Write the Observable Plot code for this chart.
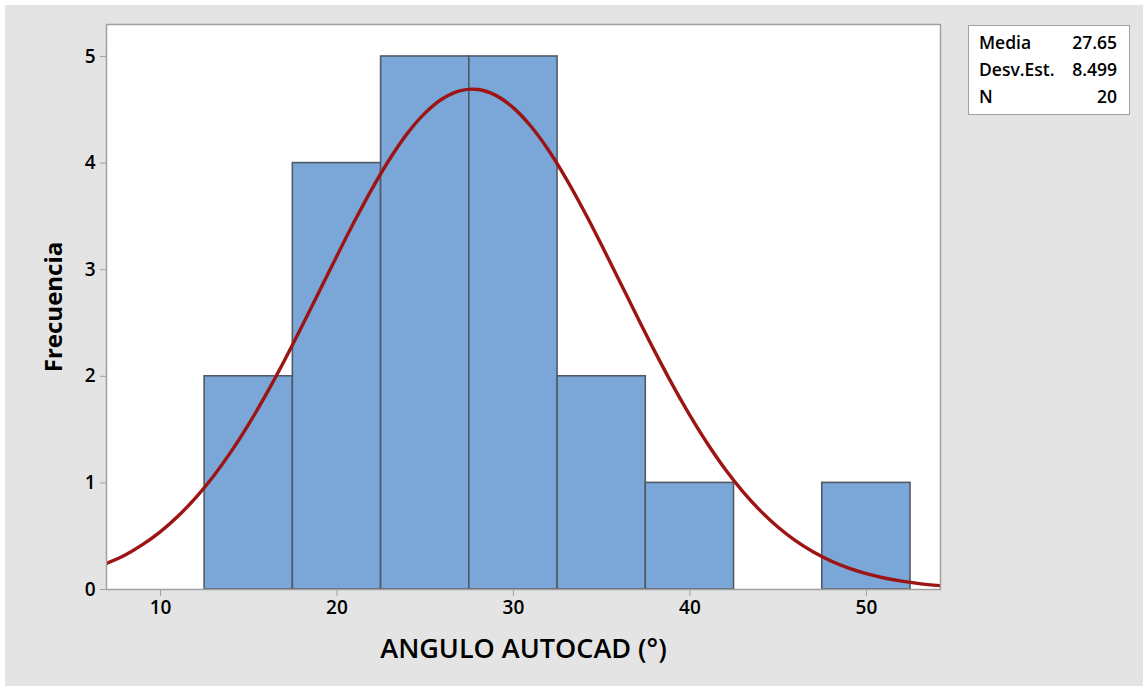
<!DOCTYPE html>
<html>
<head>
<meta charset="utf-8">
<script src="https://cdn.jsdelivr.net/npm/d3@7"></script>
<script src="https://cdn.jsdelivr.net/npm/@observablehq/plot@0.6"></script>
<style>
  html, body { margin: 0; padding: 0; background: #ffffff; }
  #wrap { position: relative; width: 1148px; height: 691px; }
  #wrap svg { display: block; background: #e4e4e4; outline: 5px solid #ffffff; outline-offset: -5px; }
  #legend {
    position: absolute; left: 968px; top: 25px; width: 160px; height: 88px;
    background: #fff; border: 1px solid #a0a0a0; box-sizing: content-box;
    font-family: "Open Sans", "Noto Sans", sans-serif; font-size: 17.5px; font-weight: 600; color: #000;
  }
  #legend table { border-collapse: collapse; margin: 3px 0 0 10px; width: 138px; }
  #legend td { padding: 0; height: 27px; line-height: 27px; white-space: nowrap; }
  #legend td.v { text-align: right; }
</style>
</head>
<body>
<div id="wrap"></div>
<script>
// Histogram bins (lower edge, upper edge) and counts
const binLower = [12.5, 17.5, 22.5, 27.5, 32.5, 37.5, 42.5, 47.5];
const binUpper = [17.5, 22.5, 27.5, 32.5, 37.5, 42.5, 47.5, 52.5];
const counts   = [2, 4, 5, 5, 2, 1, 0, 1];

// Fitted normal curve
const curveX = [6.94, 8, 9, 10, 11, 12, 13, 14, 15, 16, 17, 18, 19, 20, 21, 22, 23, 24, 25, 26, 27, 28,
                29, 30, 31, 32, 33, 34, 35, 36, 37, 38, 39, 40, 41, 42, 43, 44, 45, 46, 47, 48, 49, 50,
                51, 52, 53, 54.2];
const curveY = [0.245, 0.324, 0.423, 0.543, 0.689, 0.862, 1.063, 1.293, 1.551, 1.835, 2.141, 2.464, 2.797, 3.131,
                3.456, 3.763, 4.041, 4.281, 4.471, 4.606, 4.680, 4.690, 4.635, 4.518, 4.343, 4.118, 3.850, 3.551,
                3.230, 2.897, 2.563, 2.236, 1.924, 1.633, 1.367, 1.128, 0.919, 0.738, 0.584, 0.456, 0.352, 0.267,
                0.200, 0.148, 0.108, 0.078, 0.055, 0.036];

const xTicks = [10, 20, 30, 40, 50];
const yTicks = [0, 1, 2, 3, 4, 5];

// Summary statistics
const statLabels = ["Media", "Desv.Est.", "N"];
const statValues = ["27.65", "8.499", "20"];

const bars = binLower.map((d, i) => ({x1: d, x2: binUpper[i], y: counts[i]})).filter(d => d.y > 0);
const curve = curveX.map((d, i) => ({x: d, y: curveY[i]}));

const font = "'Open Sans', 'Noto Sans', sans-serif";

const chart = Plot.plot({
  width: 1148,
  height: 691,
  marginLeft: 106,
  marginRight: 208,
  marginTop: 24,
  marginBottom: 102,
  style: {fontFamily: font, background: "#e4e4e4", color: "#000"},
  x: {domain: [6.94, 54.2]},
  y: {domain: [0, 5.3]},
  marks: [
    Plot.frame({fill: "#ffffff", stroke: "none"}),
    Plot.rectY(bars, {x1: "x1", x2: "x2", y: "y", fill: "#7ba6d8", stroke: "#505a66", strokeWidth: 1.6}),
    Plot.line(curve, {x: "x", y: "y", stroke: "#9c1414", strokeWidth: 3.4, curve: "catmull-rom", clip: "frame"}),
    Plot.frame({stroke: "#a0a0a0", strokeWidth: 1.5}),
    Plot.axisX({
      ticks: xTicks, tickFormat: "d", tickSize: 7, tickPadding: 4, stroke: "#a0a0a0", fill: "#000",
      fontSize: 19, fontWeight: 600,
      label: "ANGULO AUTOCAD (°)", labelAnchor: "center", labelArrow: "none", labelOffset: 68
    }),
    Plot.axisY({
      ticks: yTicks, tickFormat: "d", tickSize: 6, tickPadding: 5, stroke: "#a0a0a0", fill: "#000",
      fontSize: 19, fontWeight: 600,
      label: "Frecuencia", labelAnchor: "center", labelArrow: "none", labelOffset: 62
    })
  ]
});

// Style the axis titles (larger, bold)
chart.querySelectorAll("g[aria-label='x-axis label'] text").forEach(t => {
  t.setAttribute("font-size", "27");
  t.setAttribute("font-weight", "600");
});
chart.querySelectorAll("g[aria-label='y-axis label'] text").forEach(t => {
  t.setAttribute("font-size", "24");
  t.setAttribute("font-weight", "700");
});

const wrap = document.getElementById("wrap");
wrap.appendChild(chart);

const legend = document.createElement("div");
legend.id = "legend";
const table = document.createElement("table");
statLabels.forEach((l, i) => {
  const tr = document.createElement("tr");
  const a = document.createElement("td"); a.textContent = l;
  const b = document.createElement("td"); b.textContent = statValues[i]; b.className = "v";
  tr.appendChild(a); tr.appendChild(b); table.appendChild(tr);
});
legend.appendChild(table);
wrap.appendChild(legend);
</script>
</body>
</html>
